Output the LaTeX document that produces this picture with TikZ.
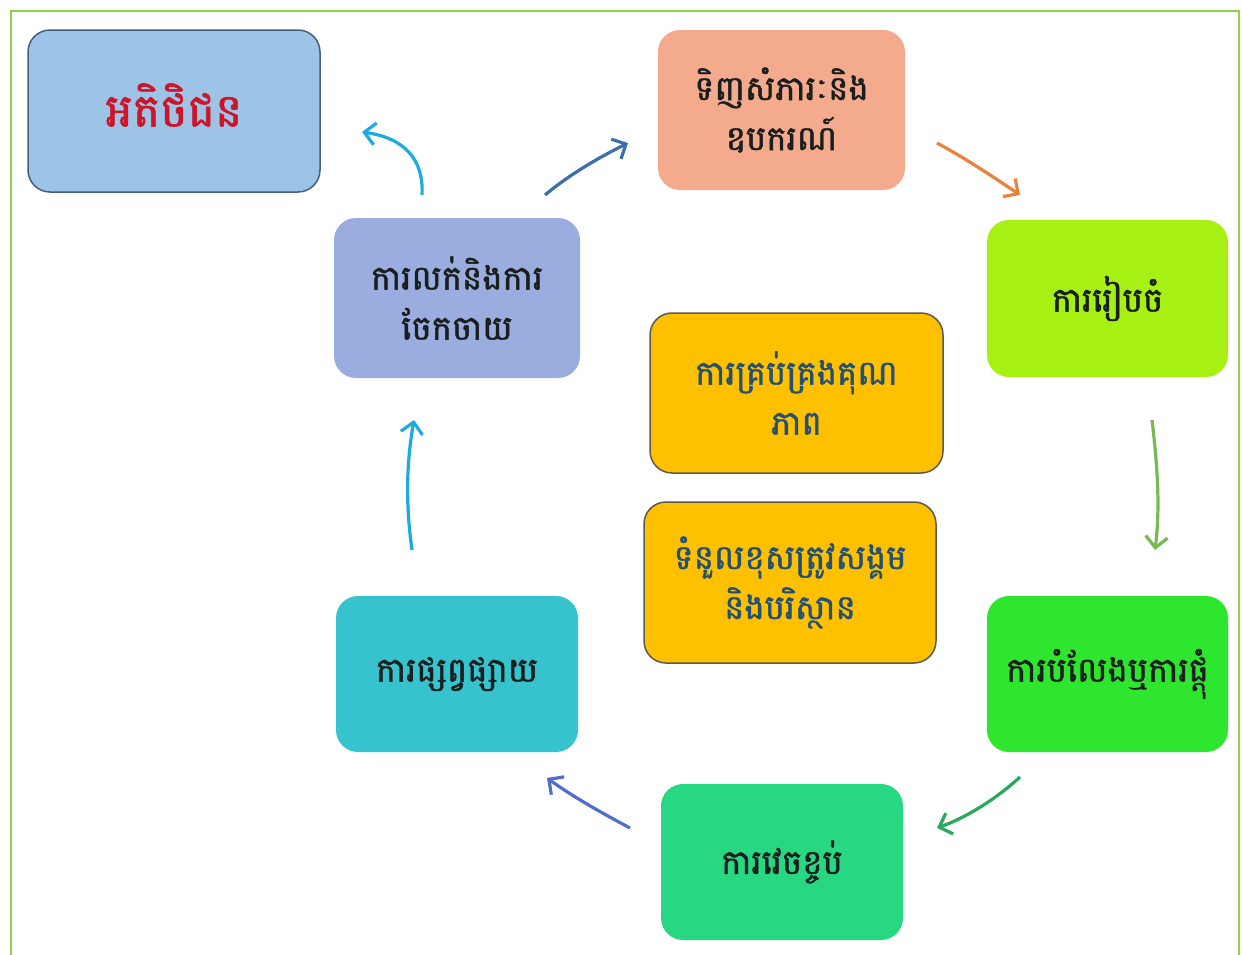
\documentclass[tikz,border=0pt]{standalone}
\usepackage{fontspec}
\newfontfamily\km[Script=Khmer,FakeBold=1.3]{Battambang}
\usetikzlibrary{arrows.meta}
\definecolor{frame}{RGB}{146,208,80}
\definecolor{custfill}{RGB}{157,195,230}
\definecolor{custdraw}{RGB}{70,95,125}
\definecolor{custtext}{RGB}{205,20,40}
\definecolor{buyfill}{RGB}{244,170,140}
\definecolor{prepfill}{RGB}{166,240,20}
\definecolor{qualfill}{RGB}{255,192,0}
\definecolor{qualdraw}{RGB}{90,90,80}
\definecolor{qualtext}{RGB}{35,80,115}
\definecolor{salefill}{RGB}{155,172,222}
\definecolor{promofill}{RGB}{55,195,205}
\definecolor{transfill}{RGB}{45,230,45}
\definecolor{packfill}{RGB}{40,215,130}
\definecolor{boxtext}{RGB}{25,30,30}
\definecolor{acyan}{RGB}{30,170,225}
\definecolor{asteel}{RGB}{60,110,170}
\definecolor{aorange}{RGB}{235,130,60}
\definecolor{aolive}{RGB}{120,185,85}
\definecolor{agreen}{RGB}{40,170,90}
\definecolor{ablue}{RGB}{80,110,200}
\tikzset{
  box/.style={rectangle, rounded corners=22pt, align=center, text=boxtext,
    font=\km\fontsize{34}{50}\selectfont, inner sep=0pt},
  flow/.style={line width=3.2pt, -{Straight Barb[length=11pt,width=22pt,line width=3.2pt]}}
}
\begin{document}
\begin{tikzpicture}[x=1pt,y=-1pt]
\useasboundingbox (0,0) rectangle (1242,954);
\fill[white] (0,0) rectangle (1242,954);
\draw[frame, line width=2.5pt] (11,960) -- (11,11) -- (1239,11) -- (1239,960);

\node[box, fill=custfill, draw=custdraw, line width=1.5pt, minimum width=292pt, minimum height=162pt] (cust) at (174,111) {};
\node[text=custtext, font=\km\fontsize{46}{50}\selectfont, inner sep=0pt] (custlabel) at (174,105) {អតិថិជន};
\node[box, fill=buyfill, minimum width=247pt, minimum height=160pt] (buy) at (781.5,110) {ទិញសំភារៈនិង\\ឧបករណ៍};
\node[box, fill=prepfill, minimum width=241pt, minimum height=157pt] (prep) at (1107.5,298.5) {ការរៀបចំ};
\node[box, fill=qualfill, draw=qualdraw, line width=1.5pt, minimum width=293pt, minimum height=160pt, text=qualtext] (qual) at (796.5,393) {ការគ្រប់គ្រងគុណ\\ភាព};
\node[box, fill=salefill, minimum width=246pt, minimum height=160pt] (sale) at (457,298) {ការលក់និងការ\\ចែកចាយ};
\node[box, fill=qualfill, draw=qualdraw, line width=1.5pt, minimum width=292pt, minimum height=161pt, text=qualtext] (soc) at (790,582.5) {ទំនួលខុសត្រូវសង្គម\\និងបរិស្ថាន};
\node[box, fill=promofill, minimum width=242pt, minimum height=156pt] (promo) at (457,674) {ការផ្សព្វផ្សាយ};
\node[box, fill=transfill, minimum width=241pt, minimum height=156pt] (trans) at (1107.5,674) {ការបំលែងឬការផ្តុំ};
\node[box, fill=packfill, minimum width=242pt, minimum height=156pt] (pack) at (782,862) {ការវេចខ្ចប់};

\coordinate (a1s) at (422,195); \coordinate (a1e) at (362,132);
\coordinate (a2s) at (545,195); \coordinate (a2e) at (628,143);
\coordinate (a3s) at (937,143); \coordinate (a3e) at (1020,195);
\coordinate (a4s) at (1152,420); \coordinate (a4e) at (1155,550);
\coordinate (a5s) at (1020,777); \coordinate (a5e) at (937,828);
\coordinate (a6s) at (630,828); \coordinate (a6e) at (547,778);
\coordinate (a7s) at (412,550); \coordinate (a7e) at (414,420);

\draw[flow, acyan] (a1s) .. controls (424,160) and (405,138) .. (a1e);
\draw[flow, asteel] (a2s) .. controls (570,174) and (600,157) .. (a2e);
\draw[flow, aorange] (a3s) .. controls (965,158) and (995,178) .. (a3e);
\draw[flow, aolive] (a4s) .. controls (1158,470) and (1160,510) .. (a4e);
\draw[flow, agreen] (a5s) .. controls (995,800) and (965,818) .. (a5e);
\draw[flow, ablue] (a6s) .. controls (600,812) and (572,796) .. (a6e);
\draw[flow, acyan] (a7s) .. controls (405,500) and (407,460) .. (a7e);
\end{tikzpicture}
\end{document}
